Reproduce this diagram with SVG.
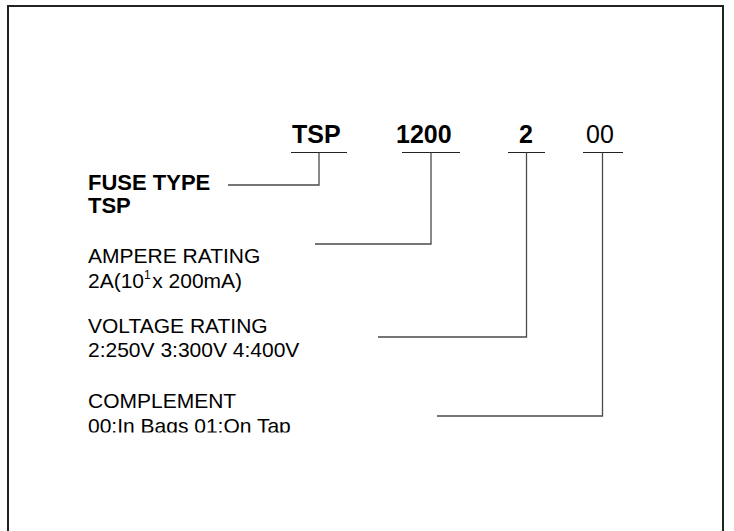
<svg xmlns="http://www.w3.org/2000/svg" width="734" height="531" viewBox="0 0 734 531">
<style>
.t{font-family:"Liberation Sans",Arial,sans-serif;font-size:21px;fill:#000}
.b{font-weight:bold;font-size:22px}
.big{font-size:25px}
.ln{fill:none;stroke:#4a4a4a;stroke-width:1.3}
.ul{fill:none;stroke:#222;stroke-width:1}
</style>
<defs>
<clipPath id="clipc"><rect x="0" y="0" width="734" height="432.5"/></clipPath>
</defs>
<rect width="734" height="531" fill="#fff"/>
<path d="M8,531 V6 H723 V531" fill="none" stroke="#222" stroke-width="2"/>
<g id="code">
<text class="t b big" x="292" y="143">TSP</text>
<text class="t b big" x="396" y="143">1200</text>
<text class="t b big" x="519" y="143">2</text>
<text class="t big" x="586" y="143">00</text>
<path class="ul" d="M291,152.5 H347 M402,152.5 H460 M508,152.5 H545 M583,152.5 H623"/>
</g>
<g id="fuse-type">
<text class="t b" x="88" y="190">FUSE TYPE</text>
<text class="t b" x="88" y="213">TSP</text>
</g>
<g id="ampere-rating">
<text class="t" x="88" y="263">AMPERE RATING</text>
<text class="t" x="88" y="288">2A(10<tspan font-size="12" dy="-9">1</tspan><tspan dy="9" dx="1.5">x 200mA)</tspan></text>
</g>
<g id="voltage-rating">
<text class="t" x="88" y="333">VOLTAGE RATING</text>
<text class="t" x="88" y="357">2:250V 3:300V 4:400V</text>
</g>
<g id="complement">
<text class="t" x="88" y="408">COMPLEMENT</text>
<text class="t" x="88" y="433" clip-path="url(#clipc)">00:In Bags 01:On Tap</text>
</g>
<g id="connectors">
<path class="ln" d="M319,152.5 V185 H228"/>
<path class="ln" d="M431,152.5 V244 H315"/>
<path class="ln" d="M526.5,152.5 V337 H378"/>
<path class="ln" d="M602.5,152.5 V416 H437"/>
</g>
</svg>
